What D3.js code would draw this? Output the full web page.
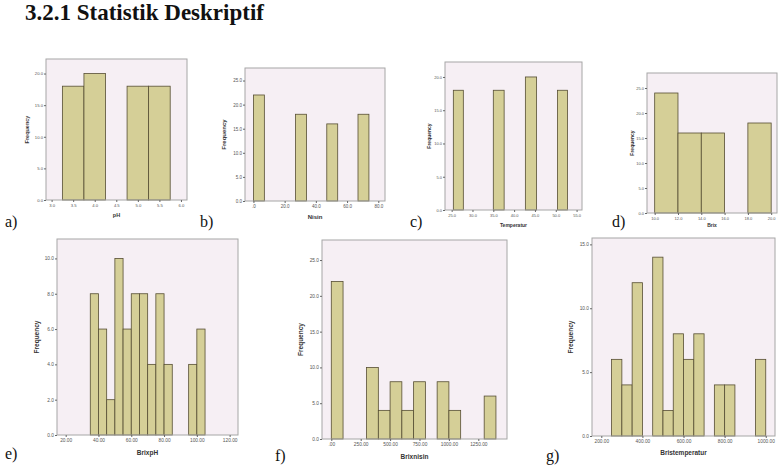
<!DOCTYPE html>
<html>
<head>
<meta charset="utf-8">
<script src="https://cdnjs.cloudflare.com/ajax/libs/d3/7.8.5/d3.min.js"></script>
<style>
  body { margin: 0; background: #fff; }
  svg { display: block; }
</style>
</head>
<body>
<div id="chart"></div>
<script>
// Data (bin start, bin end, frequency, tick values) per histogram
const phStart = [3.25, 3.75, 4.75, 5.25];
const phEnd = [3.75, 4.25, 5.25, 5.75];
const phFreq = [18, 20, 18, 18];
const phXTicks = [3.0, 3.5, 4.0, 4.5, 5.0, 5.5, 6.0];
const phYTicks = [0, 5, 10, 15, 20];

const nisinStart = [0, 27, 47, 67];
const nisinEnd = [7, 34, 54, 74];
const nisinFreq = [22, 18, 16, 18];
const nisinXTicks = [0, 20, 40, 60, 80];
const nisinYTicks = [0, 5, 10, 15, 20, 25];

const tempStart = [25.4, 35.0, 42.7, 50.4];
const tempEnd = [27.8, 37.6, 45.4, 52.8];
const tempFreq = [18, 18, 20, 18];
const tempXTicks = [25, 30, 35, 40, 45, 50, 55];
const tempYTicks = [0, 5, 10, 15, 20];

const brixStart = [10, 12, 14, 18];
const brixEnd = [12, 14, 16, 20];
const brixFreq = [24, 16, 16, 18];
const brixXTicks = [10, 12, 14, 16, 18, 20];
const brixYTicks = [0, 5, 10, 15, 20, 25];

const brixphStart = [35, 40, 45, 50, 55, 60, 65, 70, 75, 80, 95, 100];
const brixphEnd = [40, 45, 50, 55, 60, 65, 70, 75, 80, 85, 100, 105];
const brixphFreq = [8, 6, 2, 10, 6, 8, 8, 4, 8, 4, 4, 6];
const brixphXTicks = [20, 40, 60, 80, 100, 120];
const brixphYTicks = [0, 2, 4, 6, 8, 10];

const brixnisinStart = [0, 300, 400, 500, 600, 700, 900, 1000, 1300];
const brixnisinEnd = [100, 400, 500, 600, 700, 800, 1000, 1100, 1400];
const brixnisinFreq = [22, 10, 4, 8, 4, 8, 8, 4, 6];
const brixnisinXTicks = [0, 250, 500, 750, 1000, 1250];
const brixnisinYTicks = [0, 5, 10, 15, 20, 25];

const brixtempStart = [250, 300, 350, 450, 500, 550, 600, 650, 750, 800, 950];
const brixtempEnd = [300, 350, 400, 500, 550, 600, 650, 700, 800, 850, 1000];
const brixtempFreq = [6, 4, 12, 14, 2, 8, 6, 8, 4, 4, 6];
const brixtempXTicks = [200, 400, 600, 800, 1000];
const brixtempYTicks = [0, 5, 10, 15];

// Formatters (SPSS style: zero printed as ".0" / ".00")
const f1 = (d) => (d === 0 ? ".0" : d3.format(".1f")(d));
const f2 = (d) => (d === 0 ? ".00" : d3.format(".2f")(d));
const f1y = d3.format(".1f");

// SVG
const width = 783;
const height = 466;
const svg = d3.select("#chart").append("svg")
  .attr("width", width)
  .attr("height", height);

svg.append("text")
  .attr("x", 25)
  .attr("y", 20)
  .attr("font-family", "'Liberation Serif', 'Times New Roman', serif")
  .attr("font-weight", "bold")
  .attr("font-size", 23)
  .attr("fill", "#111")
  .text("3.2.1 Statistik Deskriptif");

function drawPanel(p) {
  const [left, top, right, bottom] = p.box;
  const xScale = d3.scaleLinear().domain(p.xDomain).range([left, right]);
  const yScale = d3.scaleLinear().domain(p.yDomain).range([bottom, top]);
  const g = svg.append("g");

  g.append("rect")
    .attr("x", left).attr("y", top)
    .attr("width", right - left).attr("height", bottom - top)
    .attr("fill", "#f6eff4");

  const bins = p.start.map((s, i) => ({ x0: s, x1: p.end[i], n: p.freq[i] }));
  g.selectAll("rect.bar")
    .data(bins)
    .join("rect")
    .attr("class", "bar")
    .attr("x", (d) => xScale(d.x0))
    .attr("y", (d) => yScale(d.n))
    .attr("width", (d) => xScale(d.x1) - xScale(d.x0))
    .attr("height", (d) => yScale(0) - yScale(d.n))
    .attr("fill", "#d5cf97")
    .attr("stroke", "#564e33")
    .attr("stroke-width", 0.8);

  g.append("rect")
    .attr("x", left).attr("y", top)
    .attr("width", right - left).attr("height", bottom - top)
    .attr("fill", "none")
    .attr("stroke", "#a6a6a6")
    .attr("stroke-width", 1);

  const xAxis = d3.axisBottom(xScale).tickValues(p.xTicks).tickFormat(p.xFmt)
    .tickSize(2).tickPadding(2);
  const xg = g.append("g").attr("transform", `translate(0,${bottom})`).call(xAxis);

  const yAxis = d3.axisLeft(yScale).tickValues(p.yTicks).tickFormat(f1y)
    .tickSize(2).tickPadding(1);
  const yg = g.append("g").attr("transform", `translate(${left},0)`).call(yAxis);

  [xg, yg].forEach((ax) => {
    ax.select(".domain").remove();
    ax.selectAll("line").attr("stroke", "#666");
    ax.selectAll("text")
      .attr("fill", "#555")
      .attr("font-family", "Liberation Sans, Arial, sans-serif")
      .attr("font-size", p.tickSize);
  });

  g.append("text")
    .attr("transform", `translate(${p.yLabelX},${(top + bottom) / 2}) rotate(-90)`)
    .attr("text-anchor", "middle")
    .attr("font-family", "Liberation Sans, Arial, sans-serif")
    .attr("font-weight", "bold")
    .attr("font-size", p.titleSize)
    .attr("fill", "#333")
    .text("Frequency");

  g.append("text")
    .attr("x", (left + right) / 2)
    .attr("y", p.xLabelY)
    .attr("text-anchor", "middle")
    .attr("font-family", "Liberation Sans, Arial, sans-serif")
    .attr("font-weight", "bold")
    .attr("font-size", p.titleSize)
    .attr("fill", "#333")
    .text(p.xTitle);

  svg.append("text")
    .attr("x", p.tag[0])
    .attr("y", p.tag[1])
    .attr("font-family", "'Liberation Serif', 'Times New Roman', serif")
    .attr("font-size", 16)
    .attr("fill", "#111")
    .text(p.letter);
}

drawPanel({
  start: phStart, end: phEnd, freq: phFreq, xTicks: phXTicks, yTicks: phYTicks,
  xDomain: [2.87, 6.14], yDomain: [0, 22.3], xFmt: f1,
  box: [46, 59, 187, 200], yLabelX: 29, xLabelY: 217, xTitle: "pH",
  tickSize: 4.2, titleSize: 5.5, letter: "a)", tag: [5, 227]
});

drawPanel({
  start: nisinStart, end: nisinEnd, freq: nisinFreq, xTicks: nisinXTicks, yTicks: nisinYTicks,
  xDomain: [-5.4, 84.3], yDomain: [0, 27.6], xFmt: f1,
  box: [245, 68, 385, 201], yLabelX: 226, xLabelY: 219, xTitle: "Nisin",
  tickSize: 4.5, titleSize: 6, letter: "b)", tag: [200, 227]
});

drawPanel({
  start: tempStart, end: tempEnd, freq: tempFreq, xTicks: tempXTicks, yTicks: tempYTicks,
  xDomain: [23.4, 56.3], yDomain: [0, 22.25], xFmt: f1,
  box: [445, 62, 582, 210], yLabelX: 431, xLabelY: 227, xTitle: "Temperatur",
  tickSize: 4, titleSize: 5, letter: "c)", tag: [410, 227]
});

drawPanel({
  start: brixStart, end: brixEnd, freq: brixFreq, xTicks: brixXTicks, yTicks: brixYTicks,
  xDomain: [9.34, 20.5], yDomain: [0, 28], xFmt: f1,
  box: [647, 73, 777, 213], yLabelX: 634, xLabelY: 227, xTitle: "Brix",
  tickSize: 4, titleSize: 5, letter: "d)", tag: [612, 227]
});

drawPanel({
  start: brixphStart, end: brixphEnd, freq: brixphFreq, xTicks: brixphXTicks, yTicks: brixphYTicks,
  xDomain: [14.7, 125.1], yDomain: [0, 11.1], xFmt: f2,
  box: [57, 239, 238, 435], yLabelX: 39, xLabelY: 455, xTitle: "BrixpH",
  tickSize: 4.8, titleSize: 6.5, letter: "e)", tag: [5, 459]
});

drawPanel({
  start: brixnisinStart, end: brixnisinEnd, freq: brixnisinFreq, xTicks: brixnisinXTicks, yTicks: brixnisinYTicks,
  xDomain: [-79, 1494], yDomain: [0, 27.8], xFmt: f2,
  box: [322, 240, 507, 439], yLabelX: 303, xLabelY: 459, xTitle: "Brixnisin",
  tickSize: 4.8, titleSize: 6.5, letter: "f)", tag: [275, 461]
});

drawPanel({
  start: brixtempStart, end: brixtempEnd, freq: brixtempFreq, xTicks: brixtempXTicks, yTicks: brixtempYTicks,
  xDomain: [154.7, 1045], yDomain: [0, 15.5], xFmt: f2,
  box: [592, 238, 775, 436], yLabelX: 573, xLabelY: 455, xTitle: "Bristemperatur",
  tickSize: 4.8, titleSize: 6.5, letter: "g)", tag: [546, 461]
});
</script>
</body>
</html>
